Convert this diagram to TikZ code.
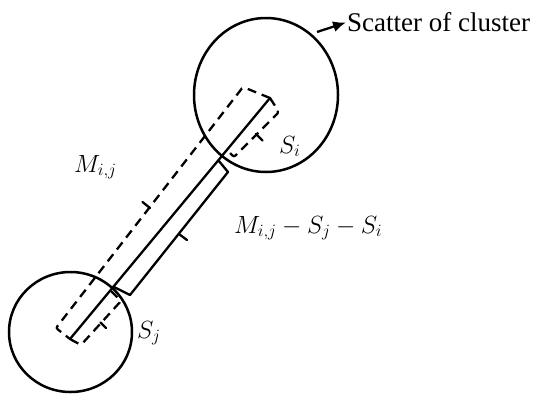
\documentclass[tikz,border=0pt]{standalone}
\usepackage{fontspec}
\setmainfont{Liberation Serif}
\usetikzlibrary{arrows.meta,shapes.geometric}
\begin{document}
\begin{tikzpicture}[x=1pt,y=-1pt,
  ln/.style={line width=2.3pt, line join=round, line cap=round},
  dsh/.style={line width=2.3pt, dash pattern=on 9pt off 6pt, rounded corners=2pt},
  clu/.style={draw, ellipse, line width=2.5pt, inner sep=0pt},
  lbl/.style={inner sep=0pt, anchor=base west, font=\fontsize{26}{31}\selectfont},
  ttl/.style={inner sep=0pt, anchor=base west, font=\fontsize{27}{32}\selectfont}]
\useasboundingbox (0,0) rectangle (534,394);
% clusters
\node[clu, minimum width=144pt, minimum height=154pt] (ci) at (266,95) {};
\node[clu, minimum width=123pt, minimum height=120pt] (cj) at (70.5,332) {};
% centre line
\coordinate (P1) at (270,98);
\coordinate (P2) at (70,339);
\draw[ln] (P1) -- (P2);
% M_{i,j} dashed bracket
\coordinate (MA) at (243,87);
\coordinate (MB) at (56,328);
\coordinate (MM) at (150,208);
\coordinate (MT) at (142.5,202);
\draw[dsh] (P1) -- (MA) -- (MB) -- (P2);
\draw[ln] (MM) -- (MT);
% S_i dashed bracket
\coordinate (SiA) at (279,112);
\coordinate (SiB) at (234,157);
\coordinate (SiC) at (227,150);
\coordinate (SiM) at (256,134);
\coordinate (SiT) at (262.5,140.5);
\draw[dsh] (P1) -- (SiA) -- (SiB) -- (SiC);
\draw[ln] (SiM) -- (SiT);
% S_j dashed bracket
\coordinate (SjT0) at (111,291);
\coordinate (SjA) at (121,301);
\coordinate (SjB) at (81,345);
\coordinate (SjM) at (100.5,322.5);
\coordinate (SjT) at (106,328);
\draw[dsh] (SjT0) -- (SjA) -- (SjB) -- (P2);
\draw[ln] (SjM) -- (SjT);
% solid bracket M - S_j - S_i
\coordinate (BA0) at (218.5,160.5);
\coordinate (BA) at (228,172);
\coordinate (BB) at (130,295);
\coordinate (BB0) at (114,287);
\coordinate (BM) at (179,234);
\coordinate (BT) at (187,240);
\draw[ln, line cap=butt] (BA0) -- (BA) -- (BB) -- (BB0);
\draw[ln] (BM) -- (BT);
% labels
\node[ttl] (scatter) at (347,31.5) {Scatter of cluster};
\coordinate (arrS) at (317,32);
\draw[line width=2.3pt, -{Latex[length=13pt,width=11pt]}, shorten >=1pt] (arrS) -- (scatter.west);
\node[lbl] (lm) at (74,172) {$M_{i,j}$};
\node[lbl] (lmss) at (234,233) {$M_{i,j}-S_j-S_i$};
\node[lbl] (lsi) at (279,153) {$S_i$};
\node[lbl] (lsj) at (137,338) {$S_j$};
\end{tikzpicture}
\end{document}
